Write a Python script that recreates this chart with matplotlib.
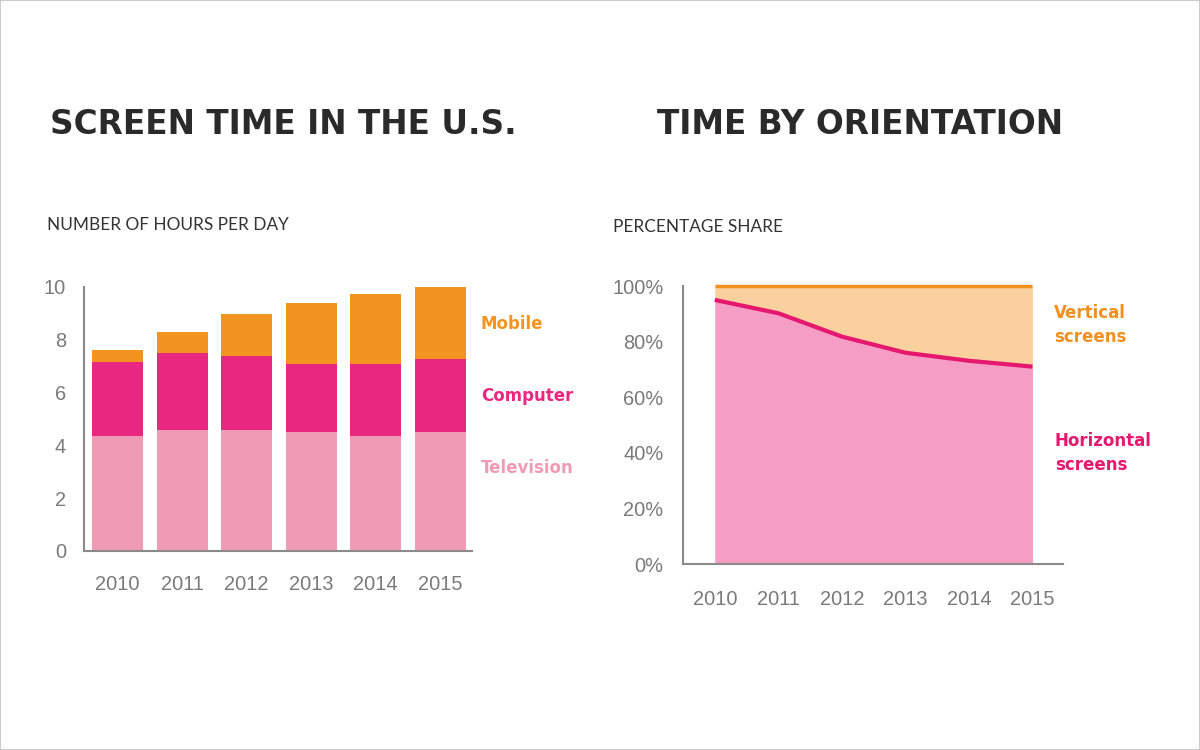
import matplotlib.pyplot as plt
from matplotlib.patches import Rectangle

# data
years = ["2010", "2011", "2012", "2013", "2014", "2015"]
television = [4.37, 4.60, 4.60, 4.49, 4.37, 4.49]
computer = [2.79, 2.90, 2.77, 2.60, 2.72, 2.78]
mobile = [0.46, 0.81, 1.62, 2.29, 2.63, 2.73]

horizontal_share = [95.0, 90.2, 81.8, 76.0, 73.1, 71.0]

c_tv = "#F09BB5"
c_comp = "#EA2780"
c_mob = "#F39420"
c_hfill = "#F59DC4"
c_hline = "#E5176E"
c_vfill = "#FAD09E"
c_vline = "#F0901E"
tick_col = "#7a7a7a"
spine_col = "#8a8a8a"

W, H = 1200, 750
fig = plt.figure(figsize=(12, 7.5), dpi=100)
fig.patch.set_facecolor("white")
fig.patches.append(Rectangle((0, 0), 1, 1, transform=fig.transFigure,
                             fill=False, edgecolor="#cccccc", lw=1.5))


def fx(px):
    return px / W


def fy(py):
    return 1 - py / H


def style_axes(ax):
    for s in ["top", "right"]:
        ax.spines[s].set_visible(False)
    for s in ["left", "bottom"]:
        ax.spines[s].set_color(spine_col)
        ax.spines[s].set_linewidth(1.5)
    ax.tick_params(length=0, labelsize=14.4, labelcolor=tick_col)
    for lab in ax.get_xticklabels() + ax.get_yticklabels():
        lab.set_family("Liberation Sans")


# ---- left: stacked bars
ax1 = fig.add_axes([fx(84), fy(551), fx(472 - 84), (551 - 287) / H])
x = range(len(years))
b1 = [t + c for t, c in zip(television, computer)]
ax1.bar(x, television, width=0.79, color=c_tv)
ax1.bar(x, computer, width=0.79, bottom=television, color=c_comp)
ax1.bar(x, mobile, width=0.79, bottom=b1, color=c_mob)
ax1.set_xlim(-0.52, 5.49)
ax1.set_ylim(0, 10)
ax1.set_yticks([0, 2, 4, 6, 8, 10])
ax1.set_xticks(list(x))
ax1.set_xticklabels(years)
style_axes(ax1)
ax1.tick_params(axis="y", pad=13)
ax1.tick_params(axis="x", pad=17)

# ---- right: share area
ax2 = fig.add_axes([fx(683), fy(564), fx(1063 - 683), (564 - 286) / H])
ax2.fill_between(x, 0, horizontal_share, color=c_hfill, lw=0)
ax2.fill_between(x, horizontal_share, 100, color=c_vfill, lw=0)
ax2.plot(x, horizontal_share, color=c_hline, lw=3, solid_capstyle="butt")
ax2.plot(x, [100] * len(years), color=c_vline, lw=2.5,
         solid_capstyle="butt", clip_on=False)
ax2.set_xlim(-0.5, 5.48)
ax2.set_ylim(0, 100)
ax2.set_yticks([0, 20, 40, 60, 80, 100])
ax2.set_yticklabels([f"{v}%" for v in [0, 20, 40, 60, 80, 100]])
ax2.set_xticks(list(x))
ax2.set_xticklabels(years)
style_axes(ax2)
ax2.tick_params(axis="y", pad=14)
ax2.tick_params(axis="x", pad=19)

# ---- titles
title_kw = dict(fontsize=23.6, fontweight="bold", color="#2a2a2a",
                family="DejaVu Sans", va="center", ha="left")
fig.text(fx(50), fy(125), "SCREEN TIME IN THE U.S.", **title_kw)
fig.text(fx(657), fy(125), "TIME BY ORIENTATION", **title_kw)

sub_kw = dict(fontsize=12.4, color="#333333", family="Lato",
              va="center", ha="left")
fig.text(fx(47), fy(225), "NUMBER OF HOURS PER DAY", **sub_kw)
fig.text(fx(613), fy(227), "PERCENTAGE SHARE", **sub_kw)

# ---- series labels
lab_kw = dict(fontsize=12, fontweight="bold", family="DejaVu Sans",
              va="center", ha="left")
fig.text(fx(481), fy(324), "Mobile", color=c_mob, **lab_kw)
fig.text(fx(481), fy(396), "Computer", color=c_comp, **lab_kw)
fig.text(fx(481), fy(468), "Television", color=c_tv, **lab_kw)
fig.text(fx(1054), fy(325), "Vertical\nscreens", color=c_vline,
         linespacing=1.45, **lab_kw)
fig.text(fx(1055), fy(453), "Horizontal\nscreens", color=c_hline,
         linespacing=1.45, **lab_kw)

fig.savefig("out.png", dpi=100)
